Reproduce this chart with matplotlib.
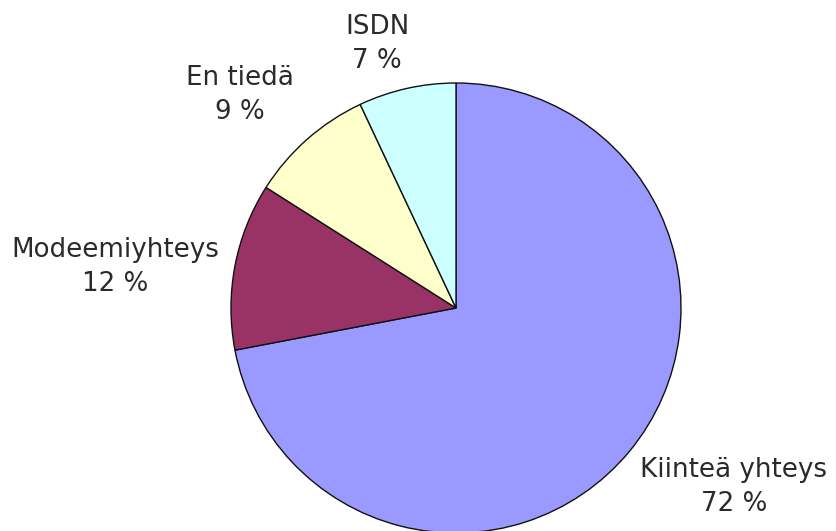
import matplotlib
matplotlib.use("Agg")
import matplotlib.pyplot as plt

categories = ["Kiinteä yhteys", "Modeemiyhteys", "En tiedä", "ISDN"]
values = [72, 12, 9, 7]
colors = ["#9999FF", "#993366", "#FFFFCC", "#CCFFFF"]

# label block centres in pixel coordinates (layout only)
label_px = [(734, 487), (115, 267), (240, 95), (377, 44)]

W, H = 836, 531
CX, CY, R = 456, 308, 225

fig = plt.figure(figsize=(W / 100, H / 100), dpi=100)
ax = fig.add_axes([0, 0, 1, 1])
ax.pie(values, colors=colors, startangle=90, counterclock=False,
       radius=1.0, wedgeprops=dict(edgecolor="#111111", linewidth=1.0))
ax.set_xlim(-CX / R, (W - CX) / R)
ax.set_ylim(-(H - CY) / R, CY / R)
ax.set_aspect("auto")
ax.axis("off")

for cat, val, (px, py) in zip(categories, values, label_px):
    ax.text((px - CX) / R, (CY - py) / R, f"{cat}\n{val} %",
            ha="center", va="center", fontsize=18.8, color="#2a2a2a",
            linespacing=1.42, family="DejaVu Sans")

fig.savefig("out.png", dpi=100)
